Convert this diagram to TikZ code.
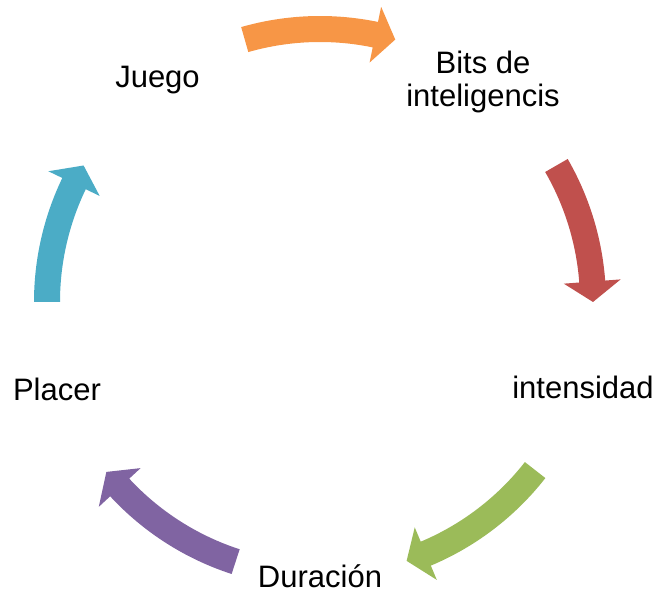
\documentclass[tikz,border=0pt]{standalone}
\usepackage{fontspec}
\setmainfont{Liberation Sans}
\usepackage{xcolor}
\usepackage{tikz}
\definecolor{arrOrange}{HTML}{F79646}
\definecolor{arrRed}{HTML}{C0504D}
\definecolor{arrGreen}{HTML}{9BBB59}
\definecolor{arrPurple}{HTML}{8064A2}
\definecolor{arrBlue}{HTML}{4BACC6}
% curved block arrow on the cycle: colour, start angle, tip angle
\newcommand{\cyclearrow}[3]{%
    \fill[#1] (#2:286) arc[start angle=#2, end angle=#3+4.3, radius=286]
        -- (#3+4.3:301.5) -- (#3:273) -- (#3+4.3:244.5) -- (#3+4.3:260)
        arc[start angle=#3+4.3, end angle=#2, radius=260] -- cycle;}

\begin{document}
\begin{tikzpicture}[x=1pt, y=1pt,
    lbl/.style={inner sep=0pt, font=\fontsize{31}{33}\selectfont, align=center}]
    \useasboundingbox (0,0) rectangle (659,593);

    % Labels
    \node[lbl, anchor=base] (juego) at (157.5,505) {Juego};
    \node[lbl] (bits) at (483,511) {Bits de\\inteligencis};
    \node[lbl, anchor=base] (intens) at (583,194) {intensidad};
    \node[lbl, anchor=base] (durac) at (320,5) {Duración};
    \node[lbl, anchor=base] (placer) at (57,192) {Placer};

    % Arrows round the centre
    \begin{scope}[shift={(320,291)}]
        \cyclearrow{arrOrange}{106}{74}
        \cyclearrow{arrRed}{30}{0}
        \cyclearrow{arrGreen}{-38}{-71.5}
        \cyclearrow{arrPurple}{-108}{-141.5}
        \cyclearrow{arrBlue}{180}{150}
    \end{scope}
\end{tikzpicture}
\end{document}
